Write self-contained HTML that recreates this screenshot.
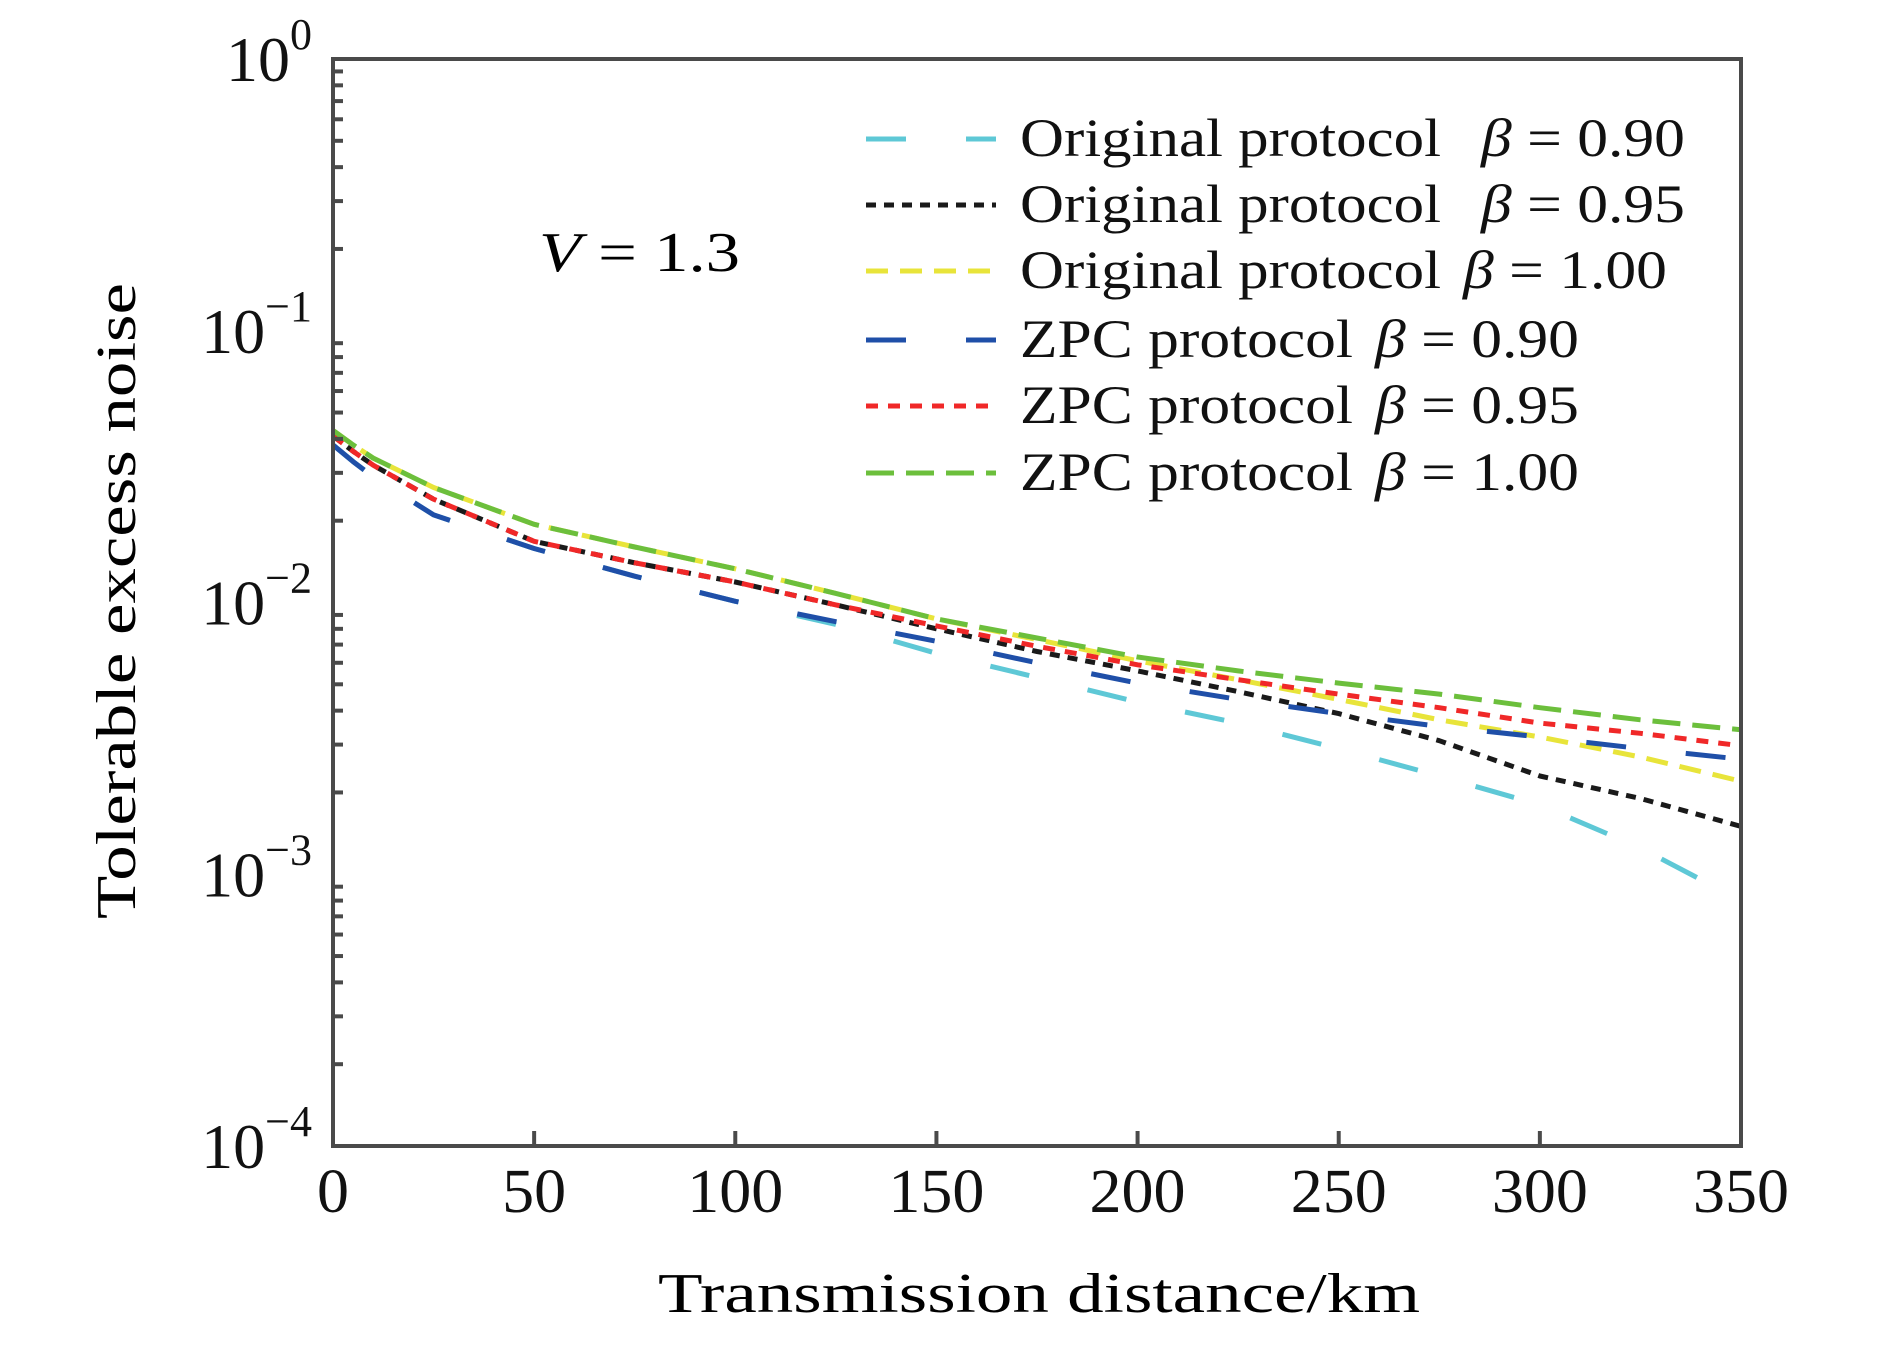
<!DOCTYPE html>
<html><head><meta charset="utf-8"><style>
html,body{margin:0;padding:0;background:#fff;}
svg{display:block;font-family:"Liberation Serif",serif;}
</style></head><body>
<svg id="chart" width="1890" height="1347" viewBox="0 0 1890 1347">
<g id="plot"></g>
<g id="axes"></g>
<text x="539" y="271" font-size="56" textLength="201" lengthAdjust="spacingAndGlyphs"><tspan font-style="italic">V</tspan> = 1.3</text>
<text x="658" y="1312" font-size="56" textLength="762" lengthAdjust="spacingAndGlyphs">Transmission distance/km</text>
<text x="0" y="0" font-size="56" textLength="636" lengthAdjust="spacingAndGlyphs" text-anchor="middle" transform="translate(135,601) rotate(-90)">Tolerable excess noise</text>
<g id="legend"></g>
</svg>
<script>
const xs = [0, 5, 10, 25, 50, 75, 100, 125, 150, 175, 200, 225, 250, 275, 300, 325, 350];
const zpc100 = [0.043, 0.038, 0.034, 0.0265, 0.0194, 0.016, 0.0133, 0.0108, 0.0087, 0.0074, 0.0063, 0.0056, 0.00505, 0.0046, 0.0041, 0.0037, 0.0034];
const zpc095 = [0.041, 0.036, 0.032, 0.024, 0.0168, 0.0140, 0.0119, 0.0098, 0.0082, 0.0069, 0.0059, 0.0052, 0.0046, 0.0041, 0.0036, 0.0033, 0.00297];
const zpc090 = [0.038, 0.033, 0.029, 0.021, 0.0158, 0.0125, 0.0101, 0.0085, 0.0072, 0.0060, 0.00505, 0.0044, 0.0039, 0.0035, 0.0032, 0.0029, 0.00265];
const orig090 = [0.038, 0.033, 0.029, 0.021, 0.0158, 0.0125, 0.0101, 0.0083, 0.0065, 0.0053, 0.0043, 0.0036, 0.0029, 0.0023, 0.0018, 0.00125, 0.0008];
const orig095 = [0.041, 0.036, 0.032, 0.024, 0.0168, 0.0140, 0.0119, 0.0098, 0.0080, 0.0066, 0.0056, 0.0047, 0.0039, 0.0031, 0.0023, 0.0019, 0.0015];
const orig100 = [0.043, 0.038, 0.034, 0.0265, 0.0194, 0.016, 0.0133, 0.0108, 0.0087, 0.0073, 0.0061, 0.0052, 0.0044, 0.0037, 0.0032, 0.0027, 0.0022];
const xTicks = [0, 50, 100, 150, 200, 250, 300, 350];
const yExps = [0, -1, -2, -3, -4];
const legendLabels = ["Original protocol", "Original protocol", "Original protocol", "ZPC protocol", "ZPC protocol", "ZPC protocol"];
const legendBetas = ["0.90", "0.95", "1.00", "0.90", "0.95", "1.00"];

const L = 333, R = 1741, T = 59, B = 1146;
const NS = "http://www.w3.org/2000/svg";
const xScale = v => L + (v - 0) / 350 * (R - L);
const yScale = v => T + (0 - Math.log10(v)) / 4 * (B - T);
function mk(tag, attrs, parent) {
  const e = document.createElementNS(NS, tag);
  for (const k in attrs) e.setAttribute(k, attrs[k]);
  parent.appendChild(e);
  return e;
}
const plot = document.getElementById('plot');
const axes = document.getElementById('axes');
const legend = document.getElementById('legend');

const series = [
  {name: 'orig-090', data: orig090, color: '#5ec8d6', dash: '40 60'},
  {name: 'orig-095', data: orig095, color: '#1a1a1a', dash: '10 8'},
  {name: 'orig-100', data: orig100, color: '#e8e43a', dash: '22 12'},
  {name: 'zpc-090', data: zpc090, color: '#1f4fa8', dash: '40 60'},
  {name: 'zpc-095', data: zpc095, color: '#f02828', dash: '12 10'},
  {name: 'zpc-100', data: zpc100, color: '#6cbf3c', dash: '28 12'}
];
series.forEach(s => {
  const d = s.data.map((v, j) => (j ? 'L' : 'M') + xScale(xs[j]).toFixed(1) + ' ' + yScale(v).toFixed(1)).join(' ');
  const p = mk('path', {d: d, fill: 'none', stroke: s.color, 'stroke-width': 5, 'stroke-dasharray': s.dash, 'stroke-linejoin': 'round'}, plot);
  
  
});

const frame = mk('rect', {x: L, y: T, width: R - L, height: B - T, fill: 'none', stroke: '#4a4a4a', 'stroke-width': 4}, axes);



xTicks.forEach(v => {
  const x = xScale(v);
  const t = mk('line', {x1: x, x2: x, y1: B, y2: B - 15, stroke: '#4a4a4a', 'stroke-width': 4}, axes);
  
  
  const s = String(v);
  const lb = mk('text', {x: x - s.length * 16, y: 1212, 'font-size': 62, textLength: s.length * 32, lengthAdjust: 'spacingAndGlyphs', fill: '#111'}, axes);
  lb.textContent = s;
  
  
});
yExps.forEach(e => {
  const y = yScale(Math.pow(10, e));
  const lb = mk('text', {x: 312, y: y + 22, 'font-size': 64, 'text-anchor': 'end', fill: '#111'}, axes);
  lb.textContent = '10';
  const sup = mk('tspan', {dy: -32, 'font-size': 44}, lb);
  sup.textContent = e === 0 ? '0' : '\u2212' + (-e);
  
  
  if (e > -4) {
    for (let m = 2; m <= 9; m++) {
      const yy = yScale(Math.pow(10, e - 1) * m);
      const t = mk('line', {x1: L, x2: L + 10, y1: yy, y2: yy, stroke: '#4a4a4a', 'stroke-width': 4}, axes);
      
      
    }
  }
});

const rowY = [139, 205, 271, 340, 406, 473];
const betaX = [1481, 1481, 1463, 1375, 1375, 1375];
const labelW = [421, 421, 421, 333, 333, 333];
series.forEach((s, i) => {
  const y = rowY[i];
  const ln = mk('line', {x1: 866, x2: 996, y1: y, y2: y, stroke: s.color, 'stroke-width': 5, 'stroke-dasharray': s.dash}, legend);
  
  
  const tx = mk('text', {x: 1020, y: y + 17, 'font-size': 54, textLength: labelW[i], lengthAdjust: 'spacingAndGlyphs', fill: '#111'}, legend);
  tx.textContent = legendLabels[i];
  
  
  const bt = mk('text', {x: betaX[i], y: y + 17, 'font-size': 54, textLength: 204, lengthAdjust: 'spacingAndGlyphs', fill: '#111'}, legend);
  const b = mk('tspan', {'font-style': 'italic'}, bt);
  b.textContent = '\u03B2';
  const rest = mk('tspan', {}, bt);
  rest.textContent = ' = ' + legendBetas[i];
  
  
});
</script>
</body></html>
